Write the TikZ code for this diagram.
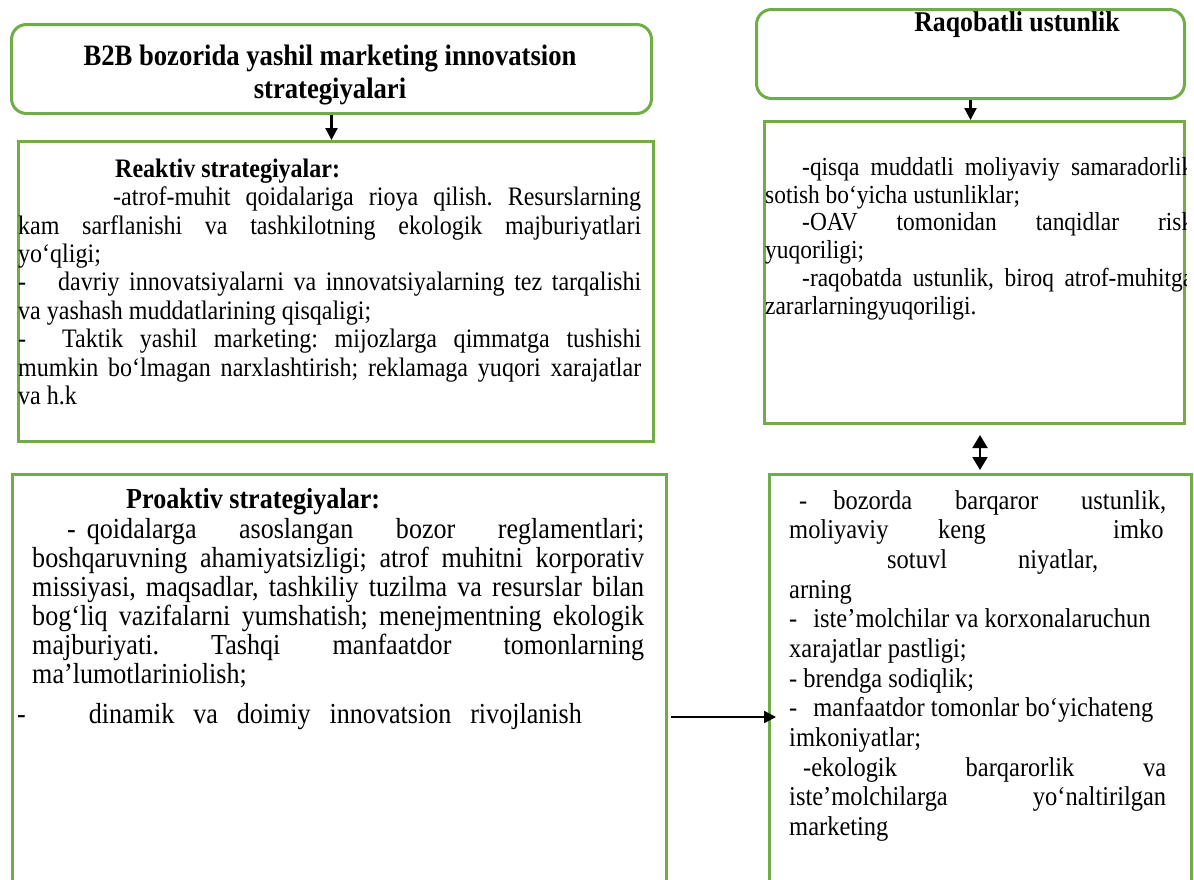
\documentclass[tikz,border=0pt]{standalone}
\usepackage{fontspec}
\setmainfont{Liberation Serif}[FakeStretch=0.9]
\usetikzlibrary{arrows.meta}
\definecolor{boxgreen}{HTML}{70AD47}
\tolerance=10000 \hbadness=10000 \hfuzz=80pt
\frenchspacing
\tikzset{
  grn/.style={draw=boxgreen, line width=3pt, inner sep=0pt, anchor=north west},
  rbox/.style={grn, rounded corners=15pt},
  sbox/.style={grn},
  txt/.style={inner sep=0pt, anchor=north west, align=justify},
  arr/.style={-{Triangle[length=12pt,width=12pt]}, line width=2.2pt},
  darr/.style={{Triangle[length=13pt,width=15pt]}-{Triangle[length=13pt,width=15pt]}, line width=2pt},
}
\begin{document}
\begin{tikzpicture}[x=1pt,y=-1pt]
\clip (0,0) rectangle (1194,879);
% boxes
\node[rbox, minimum width=640pt, minimum height=89pt] (b1) at (10,23) {};
\node[sbox, minimum width=635pt, minimum height=300pt] (b2) at (17,140) {};
\node[sbox, minimum width=654pt, minimum height=440pt] (b3) at (11,473) {};
\node[rbox, minimum width=428pt, minimum height=89pt] (b4) at (755,8) {};
\node[sbox, minimum width=420pt, minimum height=302pt] (b5) at (763,120) {};
\node[sbox, minimum width=422pt, minimum height=440pt] (b6) at (768,473) {};
% titles
\node[inner sep=0pt, align=center, font=\bfseries\fontsize{29.6}{33}\selectfont] (t1) at (330,74.5)
  {B2B bozorida yashil marketing innovatsion\\strategiyalari};
\node[inner sep=0pt, font=\bfseries\fontsize{28.6}{30}\selectfont] (t4) at (1017,25) {Raqobatli ustunlik};
% box 2 text
\node[txt, text width=623pt, font=\fontsize{26.7}{28.4}\selectfont] (t2) at (18,157.2) {\parindent=0pt\strut
\hspace*{97pt}\textbf{Reaktiv strategiyalar:}\par
\hspace*{95pt}-atrof-muhit qoidalariga rioya qilish. Resurslarning\linebreak
kam sarflanishi va tashkilotning ekologik majburiyatlari\linebreak
yo‘qligi;\par
-\hspace{32pt}davriy innovatsiyalarni va innovatsiyalarning tez tarqalishi\linebreak
va yashash muddatlarining qisqaligi;\par
-\hspace{36pt}Taktik yashil marketing: mijozlarga qimmatga tushishi\linebreak
mumkin bo‘lmagan narxlashtirish; reklamaga yuqori xarajatlar\linebreak
va h.k};
% box 3 text
\node[txt, text width=612pt, font=\fontsize{29}{29}\selectfont] (t3) at (32,487.7) {\parindent=0pt\strut
\hspace*{94pt}\textbf{Proaktiv strategiyalar:}\par
\vspace{1pt}\hspace*{35pt}-\hspace{11pt}qoidalarga asoslangan bozor reglamentlari;\linebreak
boshqaruvning ahamiyatsizligi; atrof muhitni korporativ\linebreak
missiyasi, maqsadlar, tashkiliy tuzilma va resurslar bilan\linebreak
bog‘liq vazifalarni yumshatish; menejmentning ekologik\linebreak
majburiyati. Tashqi manfaatdor tomonlarning\linebreak
ma’lumotlariniolish;\par
\vspace{11pt}\hspace*{-15pt}-\hspace*{63pt}\makebox[493pt][s]{dinamik va doimiy innovatsion rivojlanish}};
% box 5 text
\begin{scope}
\clip (b5.north west) rectangle (b5.south east);
\node[txt, text width=428pt, font=\fontsize{26}{27.7}\selectfont] (t5) at (765,156) {\parindent=0pt\strut
\hspace*{37pt}-qisqa muddatli moliyaviy samaradorlik\linebreak
sotish bo‘yicha ustunliklar;\par
\hspace*{37pt}-OAV tomonidan tanqidlar risk\linebreak
yuqoriligi;\par
\hspace*{37pt}-raqobatda ustunlik, biroq atrof-muhitga\linebreak
zararlarningyuqoriligi.};
\end{scope}
% box 6 text
\node[txt, text width=377pt, font=\fontsize{27.2}{29.7}\selectfont] (t6) at (789,488) {\parindent=0pt\strut
\hspace*{10pt}-\hspace{26pt}bozorda barqaror ustunlik,\linebreak
\makebox[149pt][l]{moliyaviy}\makebox[175pt][l]{keng}imko\par
\hspace*{98pt}\makebox[131pt][l]{sotuvl}niyatlar,\par
arning\par
-\hspace{16pt}iste’molchilar va korxonalaruchun\par
xarajatlar pastligi;\par
- brendga sodiqlik;\par
-\hspace{16pt}manfaatdor tomonlar bo‘yichateng\par
imkoniyatlar;\par
\hspace*{14pt}-ekologik barqarorlik va\linebreak
iste’molchilarga yo‘naltirilgan\linebreak
marketing};
% connectors
\draw[arr] (b1.south) -- (b1.south |- b2.north);
\draw[arr] (b4.south) -- (b4.south |- b5.north);
\coordinate (d) at (980,0);
\draw[darr] ([yshift=-10pt]b5.south -| d) -- ([yshift=3pt]b6.north -| d);
\coordinate (h) at (0,717);
\draw[arr] ([xshift=3pt]b3.east |- h) -- ([xshift=8pt]b6.west |- h);
\end{tikzpicture}
\end{document}
